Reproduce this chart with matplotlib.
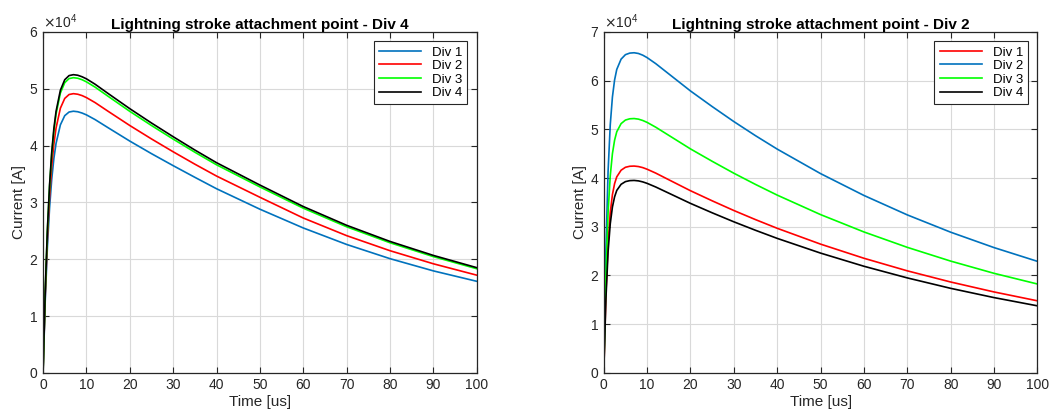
"""Lightning stroke attachment point: current at each division (Div 4 and Div 2 strikes)."""

import matplotlib.pyplot as plt
from matplotlib.ticker import ScalarFormatter

plt.rcParams["font.family"] = ["Liberation Sans", "DejaVu Sans"]

# time samples [us]
T = [0, 0.5, 1, 1.5, 2, 2.5, 3, 4, 5, 6, 7, 8, 9, 10, 12, 15, 20, 25, 30, 35,
     40, 50, 60, 70, 80, 90, 100]

# strike at Div 4 - current [A] in each division
L_DIV1 = [0, 12660, 22090, 29000, 34060, 37740, 40370, 43640, 45250, 45890, 46030,
          45940, 45710, 45390, 44560, 43130, 40780, 38570, 36460, 34410, 32400,
          28800, 25500, 22600, 20100, 17950, 16120]
L_DIV2 = [0, 13510, 23580, 30950, 36350, 40280, 43080, 46570, 48280, 48970, 49120,
          49020, 48780, 48430, 47550, 46020, 43520, 41160, 38900, 36720, 34630,
          30900, 27250, 24150, 21500, 19200, 17200]
L_DIV3 = [0, 14280, 24930, 32720, 38430, 42580, 45540, 49230, 51050, 51770, 51930,
          51830, 51570, 51200, 50270, 48660, 46010, 43520, 41130, 38820, 36610,
          32720, 28980, 25710, 22900, 20460, 18330]
L_DIV4 = [0, 14430, 25180, 33050, 38820, 43020, 46010, 49730, 51570, 52300, 52460,
          52360, 52090, 51730, 50780, 49150, 46480, 43960, 41550, 39210, 36980,
          33050, 29270, 25970, 23130, 20670, 18520]

# strike at Div 2 - current [A] in each division
R_DIV1 = [0, 16340, 26740, 32900, 36590, 38840, 40240, 41600, 42200, 42410, 42450,
          42350, 42130, 41800, 41000, 39640, 37390, 35320, 33330, 31460, 29680,
          26430, 23530, 20950, 18660, 16620, 14800]
R_DIV2 = [0, 25300, 41390, 50920, 56630, 60120, 62280, 64390, 65310, 65630, 65700,
          65550, 65200, 64700, 63460, 61360, 57860, 54660, 51580, 48680, 45930,
          40900, 36420, 32430, 28880, 25720, 22900]
R_DIV3 = [0, 20100, 32890, 40460, 45000, 47760, 49490, 51160, 51890, 52150, 52200,
          52080, 51800, 51410, 50420, 48750, 45970, 43430, 40980, 38680, 36490,
          32490, 28930, 25770, 22950, 20440, 18250]
R_DIV4 = [0, 15210, 24890, 30610, 34050, 36140, 37450, 38710, 39260, 39460, 39500,
          39410, 39200, 38900, 38150, 36890, 34790, 32860, 31010, 29270, 27610,
          24590, 21890, 19500, 17360, 15460, 13770]

LABELS = ["Div 1", "Div 2", "Div 3", "Div 4"]
M_BLUE = "#0072BD"
AX_COLOR = "#262626"


def style_axis(ax, ymax, title):
    ax.set_xlim(0, 100)
    ax.set_ylim(0, ymax)
    ax.set_xticks(range(0, 101, 10))
    ax.set_yticks(range(0, ymax + 1, 10000))
    fmt = ScalarFormatter(useMathText=True)
    fmt.set_powerlimits((0, 0))
    ax.yaxis.set_major_formatter(fmt)
    ax.yaxis.get_offset_text().set_fontsize(10)
    ax.yaxis.get_offset_text().set_color(AX_COLOR)
    ax.grid(True, color="#d9d9d9", linewidth=0.8)
    ax.set_axisbelow(True)
    ax.tick_params(direction="in", top=True, right=True, length=4,
                   labelsize=10, colors=AX_COLOR)
    for spine in ax.spines.values():
        spine.set_color(AX_COLOR)
        spine.set_linewidth(0.9)
    ax.set_xlabel("Time [us]", fontsize=11, color=AX_COLOR, labelpad=2)
    ax.set_ylabel("Current [A]", fontsize=11, color=AX_COLOR, labelpad=2)
    ax.set_title(title, fontsize=11, fontweight="bold", pad=2)
    leg = ax.legend(loc="upper right", fontsize=9.5, fancybox=False, framealpha=1,
                    edgecolor=AX_COLOR, borderaxespad=0.7, handlelength=3.2,
                    labelspacing=0.1, borderpad=0.4)
    leg.get_frame().set_linewidth(0.8)


fig = plt.figure(figsize=(10.5, 4.13), dpi=100)
ax1 = fig.add_axes([0.041, 0.097, 0.413, 0.826])
ax2 = fig.add_axes([0.575, 0.097, 0.413, 0.826])

for ys, color, label in zip([L_DIV1, L_DIV2, L_DIV3, L_DIV4],
                            [M_BLUE, "#ff0000", "#00ff00", "#000000"], LABELS):
    ax1.plot(T, ys, color=color, linewidth=1.2, label=label)
style_axis(ax1, 60000, "Lightning stroke attachment point - Div 4")

for ys, color, label in zip([R_DIV1, R_DIV2, R_DIV3, R_DIV4],
                            ["#ff0000", M_BLUE, "#00ff00", "#000000"], LABELS):
    ax2.plot(T, ys, color=color, linewidth=1.2, label=label)
style_axis(ax2, 70000, "Lightning stroke attachment point - Div 2")

fig.savefig("out.png", dpi=100)
